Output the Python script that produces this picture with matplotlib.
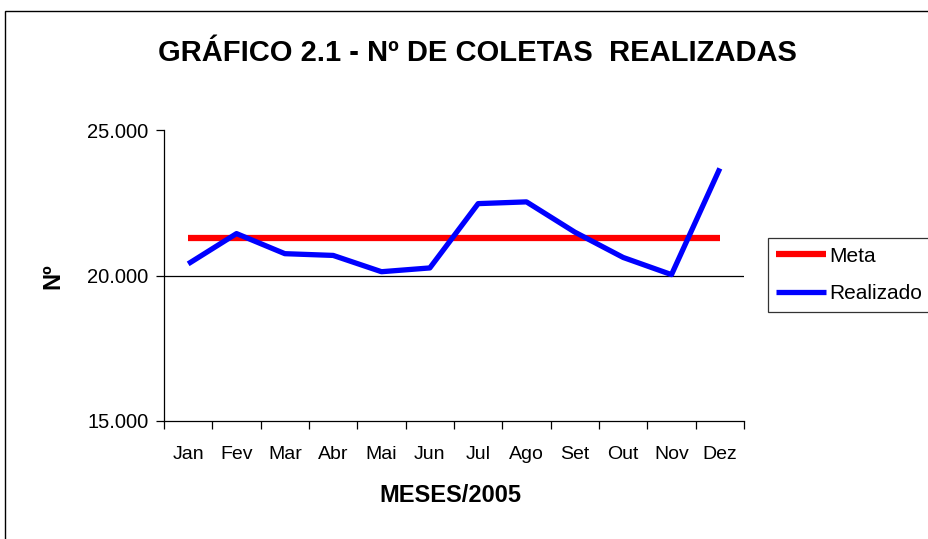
import matplotlib
matplotlib.use("Agg")
import matplotlib.pyplot as plt
from matplotlib.patches import Rectangle

plt.rcParams["font.family"] = ["Liberation Sans", "DejaVu Sans"]

# Data
meses = ["Jan", "Fev", "Mar", "Abr", "Mai", "Jun", "Jul", "Ago", "Set", "Out", "Nov", "Dez"]
meta = [21300] * 12
realizado = [20400, 21440, 20750, 20690, 20130, 20260, 22470, 22530, 21490, 20620, 20030, 23680]
y_ticks = [15000, 20000, 25000]
y_tick_labels = ["15.000", "20.000", "25.000"]

W, H = 929, 539
fig = plt.figure(figsize=(W / 100, H / 100), dpi=100)

# chart area border (Excel style)
fig.patches.append(Rectangle((5 / W, -0.1), 1.2, 1 - 11 / H + 0.1, transform=fig.transFigure,
                             fill=False, edgecolor="black", linewidth=1.0))

ax = fig.add_axes([164 / W, 1 - 421 / H, 580 / W, 291 / H])

x = list(range(len(meses)))
ax.plot(x, meta, color="#ff0000", linewidth=4.5, label="Meta", solid_capstyle="butt")
ax.plot(x, realizado, color="#0000ff", linewidth=3.8, label="Realizado", solid_capstyle="butt")
ax.axhline(20000, color="black", linewidth=0.9, zorder=0)

ax.set_xlim(-0.5, len(meses) - 0.5)
ax.set_ylim(15000, 25000)
ax.set_yticks(y_ticks)
ax.set_yticklabels(y_tick_labels, fontsize=14.5)
ax.set_xticks(x)
ax.set_xticklabels(meses, fontsize=14)
ax.set_xticks([i - 0.5 for i in range(len(meses) + 1)], minor=True)
ax.tick_params(axis="x", which="major", length=0, pad=18)
ax.tick_params(axis="x", which="minor", length=6, direction="out", width=0.9)
ax.tick_params(axis="y", length=6, direction="out", width=0.9, pad=5)

for side in ["top", "right"]:
    ax.spines[side].set_visible(False)
for side in ["left", "bottom"]:
    ax.spines[side].set_linewidth(0.9)

fig.text(477 / W, 1 - 53 / H, "GRÁFICO 2.1 - Nº DE COLETAS  REALIZADAS",
         ha="center", va="center", fontsize=21, fontweight="bold")
fig.text(450 / W, 1 - 495 / H, "MESES/2005", ha="center", va="center",
         fontsize=17, fontweight="bold")
fig.text(53 / W, 1 - 276 / H, "Nº", ha="center", va="center", rotation=90,
         fontsize=17, fontweight="bold")

leg = fig.legend(loc="center left", bbox_to_anchor=(768 / W, 1 - 275 / H), fontsize=15,
                 frameon=True, fancybox=False, edgecolor="black", handlelength=2.4,
                 handletextpad=0.15, borderpad=0.4, labelspacing=0.9, borderaxespad=0)
leg.get_frame().set_linewidth(0.9)

fig.savefig("out.png", dpi=100)
